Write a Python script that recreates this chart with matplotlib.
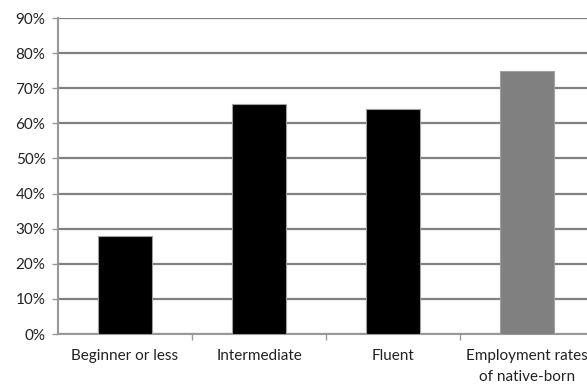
import matplotlib
matplotlib.use("Agg")
import matplotlib.pyplot as plt
import numpy as np

categories = ["Beginner or less", "Intermediate", "Fluent", "Employment rates\nof native-born"]
values = [27.8, 65.5, 64.0, 75.0]
bar_colors = ["#000000", "#000000", "#000000", "#808080"]
yticks = list(range(0, 91, 10))

plt.rcParams['font.family'] = ['Lato', 'DejaVu Sans']

fig = plt.figure(figsize=(5.87, 3.87), dpi=100)
# the right edge of the plot is cut off in the original
ax = fig.add_axes([58/587, 1-334/387, 536/587, 316/387])

x = np.arange(len(categories))
ax.bar(x, values, width=0.4, color=bar_colors, edgecolor="#a0a0a0", linewidth=0.8, zorder=3)

ax.set_xlim(-0.5, len(categories) - 0.5)
ax.set_ylim(0, 90)
ax.set_yticks(yticks)
ax.set_yticklabels([f"{t}%" for t in yticks])
ax.yaxis.grid(True, color="#808080", linewidth=1.6, zorder=0)
ax.set_axisbelow(True)

ax.set_xticks(x)
ax.set_xticklabels(categories, fontsize=11, color="#222222", linespacing=1.6)
ax.set_xticks(np.arange(0.5, len(categories) - 0.5, 1), minor=True)
ax.tick_params(axis="x", which="major", length=0, pad=11)
ax.tick_params(axis="x", which="minor", length=4, color="#999999", width=1)
ax.tick_params(axis="y", length=4, color="#999999", width=1, labelsize=11, labelcolor="#222222", pad=5)

for s in ["top", "right"]:
    ax.spines[s].set_visible(False)
for s in ["left", "bottom"]:
    ax.spines[s].set_color("#999999")
    ax.spines[s].set_linewidth(1.5)

fig.savefig("out.png", dpi=100)
